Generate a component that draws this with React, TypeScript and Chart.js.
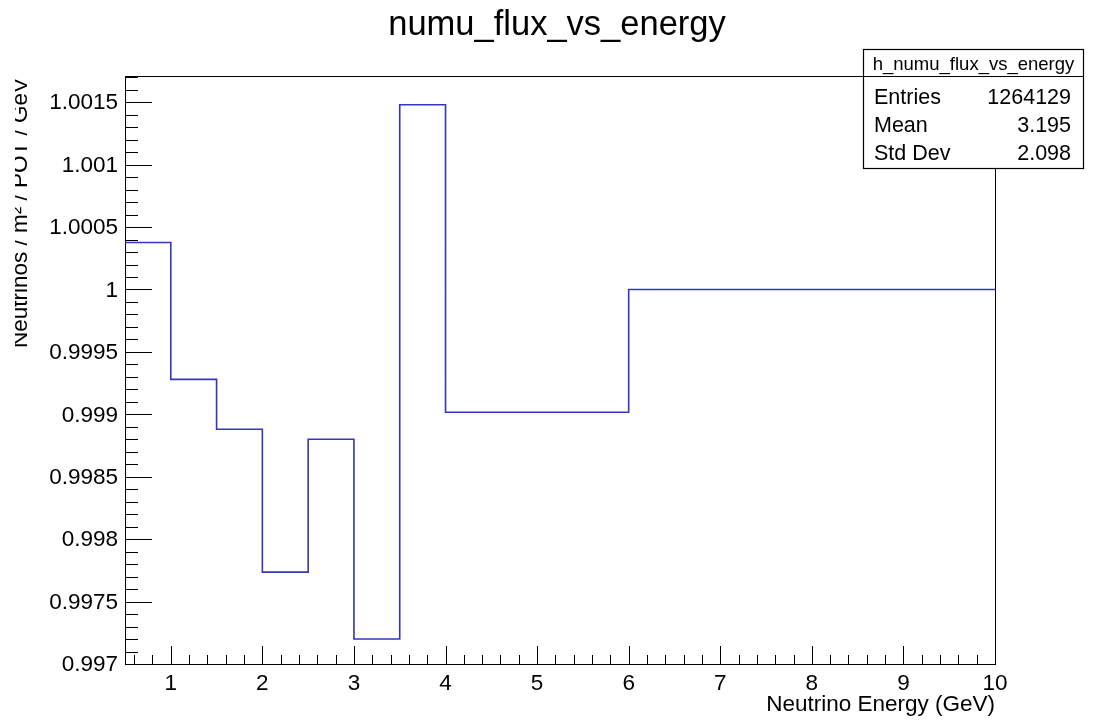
import React, { useEffect, useRef } from 'react';
import { Chart, registerables } from 'chart.js';

Chart.register(...registerables);

// ---- data ----
const binEdges = [0.5, 1, 1.5, 2, 2.5, 3, 3.5, 4, 6, 10];
const fluxValues = [1.000376, 0.99928, 0.99888, 0.997736, 0.9988, 0.9972, 1.00148, 0.999016, 1.0];
const xTickValues = [1, 2, 3, 4, 5, 6, 7, 8, 9, 10];
const xTickLabels = ['1', '2', '3', '4', '5', '6', '7', '8', '9', '10'];
const yTickValues = [0.997, 0.9975, 0.998, 0.9985, 0.999, 0.9995, 1.0, 1.0005, 1.001, 1.0015];
const yTickLabels = ['0.997', '0.9975', '0.998', '0.9985', '0.999', '0.9995', '1', '1.0005', '1.001', '1.0015'];
const chartTitle = 'numu_flux_vs_energy';
const xTitle = 'Neutrino Energy (GeV)';
const yTitle = 'Neutrinos / m\u00B2 / POT / GeV';
const statsName = 'h_numu_flux_vs_energy';
const statsLabels = ['Entries', 'Mean', 'Std Dev'];
const statsValues = ['1264129', '3.195', '2.098'];

const X_MIN = 0.5;
const X_MAX = 10;
const Y_MIN = 0.997;
const Y_MAX = 1.00171;

const FONT = '"Liberation Sans", Arial, Helvetica, sans-serif';

const rootPlugin = {
  id: 'rootStyle',
  beforeDatasetsDraw(chart: any) {
    const ctx = chart.ctx as CanvasRenderingContext2D;
    const { left, right, top, bottom } = chart.chartArea;
    const xs = chart.scales.x;
    const ys = chart.scales.y;
    ctx.save();
    ctx.strokeStyle = '#000';
    ctx.lineWidth = 1;
    // frame
    ctx.strokeRect(Math.round(left) + 0.5, Math.round(top) + 0.5, Math.round(right - left), Math.round(bottom - top));
    // x ticks
    ctx.beginPath();
    for (let i = 3; i <= 50; i++) {
      const v = i / 5;
      if (v <= X_MIN || v > X_MAX) continue;
      const px = Math.round(xs.getPixelForValue(v)) + 0.5;
      const major = i % 5 === 0;
      ctx.moveTo(px, bottom);
      ctx.lineTo(px, bottom - (major ? 18 : 9));
    }
    // y ticks
    for (let i = 9970; i <= 10017; i++) {
      const v = i / 10000;
      if (v < Y_MIN || v > Y_MAX) continue;
      const py = Math.round(ys.getPixelForValue(v)) + 0.5;
      const major = i % 5 === 0;
      ctx.moveTo(left, py);
      ctx.lineTo(left + (major ? 27 : 13), py);
    }
    ctx.stroke();

    // tick labels
    ctx.fillStyle = '#000';
    ctx.font = `22.5px ${FONT}`;
    ctx.textAlign = 'center';
    ctx.textBaseline = 'alphabetic';
    xTickValues.forEach((v, i) => {
      ctx.fillText(xTickLabels[i], xs.getPixelForValue(v), 690);
    });
    ctx.textAlign = 'right';
    ctx.textBaseline = 'middle';
    yTickValues.forEach((v, i) => {
      ctx.fillText(yTickLabels[i], 118, ys.getPixelForValue(v) + 1);
    });

    // axis titles
    ctx.font = `22.5px ${FONT}`;
    ctx.textAlign = 'right';
    ctx.textBaseline = 'alphabetic';
    ctx.fillText(xTitle, right, 711);

    ctx.save();
    ctx.beginPath();
    ctx.rect(15, 0, 200, 721);
    ctx.clip();
    ctx.translate(27, top + 2);
    ctx.rotate(-Math.PI / 2);
    ctx.textAlign = 'right';
    ctx.textBaseline = 'alphabetic';
    ctx.fillText(yTitle, 0, 0);
    ctx.restore();

    // main title
    ctx.font = `34.5px ${FONT}`;
    ctx.textAlign = 'center';
    ctx.textBaseline = 'alphabetic';
    ctx.fillText(chartTitle, 557, 35);
    ctx.restore();
  },
  afterDraw(chart: any) {
    const ctx = chart.ctx as CanvasRenderingContext2D;
    ctx.save();
    const bx = 863.5, by = 49.5, bw = 220, bh = 119;
    ctx.fillStyle = '#fff';
    ctx.fillRect(bx, by, bw, bh);
    ctx.strokeStyle = '#000';
    ctx.lineWidth = 1.2;
    ctx.strokeRect(bx, by, bw, bh);
    ctx.beginPath();
    ctx.moveTo(bx, 76.5);
    ctx.lineTo(bx + bw, 76.5);
    ctx.stroke();
    ctx.fillStyle = '#000';
    ctx.font = `18.5px ${FONT}`;
    ctx.textAlign = 'center';
    ctx.textBaseline = 'alphabetic';
    ctx.fillText(statsName, bx + bw / 2, 70);
    ctx.font = `21.5px ${FONT}`;
    const baselines = [104, 132, 160];
    statsLabels.forEach((lab, i) => {
      ctx.textAlign = 'left';
      ctx.fillText(lab, 874, baselines[i]);
      ctx.textAlign = 'right';
      ctx.fillText(statsValues[i], 1071, baselines[i]);
    });
    ctx.restore();
  },
};

export default function App() {
  const canvasRef = useRef<HTMLCanvasElement | null>(null);

  useEffect(() => {
    if (!canvasRef.current) return;
    const points = binEdges.map((e, i) => ({ x: e, y: fluxValues[Math.min(i, fluxValues.length - 1)] }));
    const chart = new Chart(canvasRef.current, {
      type: 'line',
      data: {
        datasets: [
          {
            label: statsName,
            data: points,
            stepped: 'before',
            borderColor: '#3535bd',
            borderWidth: 1.6,
            pointRadius: 0,
            fill: false,
            tension: 0,
          } as any,
        ],
      },
      options: {
        responsive: false,
        animation: false,
        events: [],
        layout: { padding: { left: 125, right: 104, top: 76, bottom: 57 } },
        plugins: {
          legend: { display: false },
          tooltip: { enabled: false },
          title: { display: false },
        },
        scales: {
          x: { type: 'linear', min: X_MIN, max: X_MAX, display: false },
          y: { type: 'linear', min: Y_MIN, max: Y_MAX, display: false },
        },
      },
      plugins: [rootPlugin],
    });
    return () => chart.destroy();
  }, []);

  return (
    <div style={{ position: 'fixed', left: 0, top: 0, width: 1099, height: 721, background: '#fff' }}>
      <canvas ref={canvasRef} width={1099} height={721} style={{ display: 'block' }} />
    </div>
  );
}
